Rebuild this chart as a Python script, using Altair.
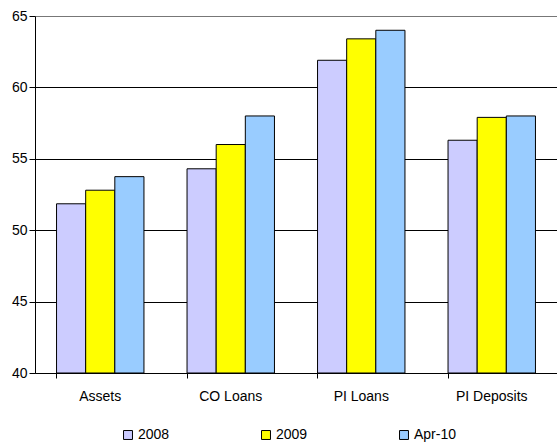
import altair as alt
import pandas as pd

categories = ["Assets", "CO Loans", "PI Loans", "PI Deposits"]
series = ["2008", "2009", "Apr-10"]
v2008 = [51.85, 54.3, 61.9, 56.3]
v2009 = [52.8, 56.0, 63.4, 57.9]
vapr10 = [53.75, 58.0, 64.0, 58.0]
colors = ["#CCCCFF", "#FFFF00", "#99CCFF"]

rows = []
for s, vals in zip(series, [v2008, v2009, vapr10]):
    for c, v in zip(categories, vals):
        rows.append({"cat": c, "series": s, "value": v})
df = pd.DataFrame(rows)

font = "Liberation Sans"

chart = alt.Chart(df).mark_bar(stroke="black", strokeWidth=1, clip=True).encode(
    x=alt.X("cat:N", sort=categories, title=None,
            scale=alt.Scale(paddingInner=0.33, paddingOuter=0.165),
            axis=alt.Axis(labelAngle=0, bandPosition=0, tickColor="black",
                          domainColor="black", tickSize=5, labelFontSize=14,
                          labelFont=font, labelColor="black", labelPadding=11,
                          grid=False, zindex=1)),
    xOffset=alt.XOffset("series:N", sort=series),
    y=alt.Y("value:Q", title=None,
            scale=alt.Scale(domain=[40, 65], nice=False, zero=False),
            axis=alt.Axis(values=[40, 45, 50, 55, 60, 65], tickColor="black",
                          domainColor="black", tickSize=6, labelFontSize=14,
                          labelFont=font, labelColor="black", labelPadding=2,
                          grid=True,
                          gridColor={"condition": {"test": "datum.value == 65", "value": "#777777"}, "value": "black"},
                          gridOpacity=1)),
    y2=alt.Y2(datum=40),
    color=alt.Color("series:N", sort=series,
                    scale=alt.Scale(domain=series, range=colors),
                    legend=alt.Legend(title=None, orient="none", direction="horizontal",
                                      legendX=86, legendY=412, symbolType="square",
                                      symbolSize=80, symbolStrokeColor="black",
                                      symbolStrokeWidth=1, labelFont=font,
                                      labelFontSize=14, labelColor="black",
                                      columnPadding=89, labelOffset=3)),
).properties(
    width=522, height=357,
    autosize=alt.AutoSizeParams(type="none"),
    padding={"left": 35, "top": 16, "right": 0, "bottom": 75},
).configure_view(stroke=None).configure_axis(domainWidth=1)

chart.save("out.html", embed_options={"renderer": "svg", "actions": False})
